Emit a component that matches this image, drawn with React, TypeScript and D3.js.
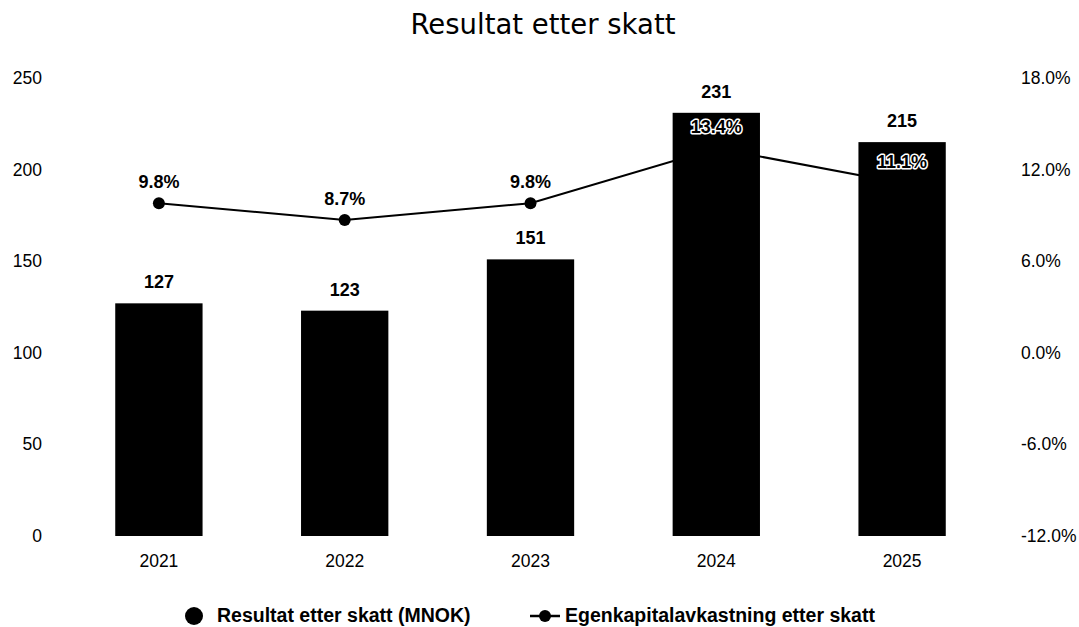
import React from "react";
import * as d3 from "d3";

const years = ["2021", "2022", "2023", "2024", "2025"];
const resultat = [127, 123, 151, 231, 215];
const avkastning = [9.8, 8.7, 9.8, 13.4, 11.1];
const leftTicks = [0, 50, 100, 150, 200, 250];
const rightTicks = [-12, -6, 0, 6, 12, 18];

const W = 1079;
const H = 627;
const plotLeft = 66;
const plotRight = 995;
const plotTop = 78;
const plotBottom = 536;
const font = "'Liberation Sans', Arial, sans-serif";

export default function App() {
  const x = d3.scaleBand<string>().domain(years).range([plotLeft, plotRight]).paddingInner(0.53).paddingOuter(0.265);
  const yL = d3.scaleLinear().domain([0, 250]).range([plotBottom, plotTop]);
  const yR = d3.scaleLinear().domain([-12, 18]).range([plotBottom, plotTop]);
  const cx = (d: string) => (x(d) as number) + x.bandwidth() / 2;
  const line = d3
    .line<number>()
    .x((_, i) => cx(years[i]))
    .y((v) => yR(v));

  return (
    <svg width={W} height={H} style={{ position: "absolute", left: 0, top: 0, background: "#fff" }}>
      <text x={543} y={34} textAnchor="middle" fontFamily="'DejaVu Sans', sans-serif" fontSize={27.5} fill="#000">
        Resultat etter skatt
      </text>
      {leftTicks.map((t) => (
        <text key={"l" + t} x={42} y={yL(t) + 6} textAnchor="end" fontFamily={font} fontSize={17.5} fill="#000">
          {t}
        </text>
      ))}
      {rightTicks.map((t) => (
        <text key={"r" + t} x={1021} y={yR(t) + 6} textAnchor="start" fontFamily={font} fontSize={17.5} fill="#000">
          {t.toFixed(1) + "%"}
        </text>
      ))}
      {years.map((y, i) => (
        <g key={y}>
          <rect x={x(y)} y={yL(resultat[i])} width={x.bandwidth()} height={plotBottom - yL(resultat[i])} fill="#000" />
          <text x={cx(y)} y={yL(resultat[i]) - 15} textAnchor="middle" fontFamily={font} fontWeight="bold" fontSize={18} fill="#000">
            {resultat[i]}
          </text>
          <text x={cx(y)} y={567} textAnchor="middle" fontFamily={font} fontSize={17.5} fill="#000">
            {y}
          </text>
        </g>
      ))}
      <path d={line(avkastning) || ""} fill="none" stroke="#000" strokeWidth={2} />
      {years.map((y, i) => (
        <g key={"p" + y}>
          <circle cx={cx(y)} cy={yR(avkastning[i])} r={6} fill="#000" />
          <text
            x={cx(y)}
            y={yR(avkastning[i]) - 15}
            textAnchor="middle"
            fontFamily={font}
            fontWeight="bold"
            fontSize={18}
            fill="#000"
            stroke="#fff"
            strokeWidth={3}
            strokeLinejoin="round"
            style={{ paintOrder: "stroke" }}
          >
            {avkastning[i].toFixed(1) + "%"}
          </text>
        </g>
      ))}
      <circle cx={194} cy={616} r={9} fill="#000" />
      <text x={217} y={622} fontFamily={font} fontWeight="bold" fontSize={19.5} fill="#000">
        Resultat etter skatt (MNOK)
      </text>
      <line x1={530} x2={560} y1={616} y2={616} stroke="#000" strokeWidth={2.5} />
      <circle cx={545} cy={616} r={6} fill="#000" />
      <text x={565} y={622} fontFamily={font} fontWeight="bold" fontSize={19.5} fill="#000">
        Egenkapitalavkastning etter skatt
      </text>
    </svg>
  );
}
